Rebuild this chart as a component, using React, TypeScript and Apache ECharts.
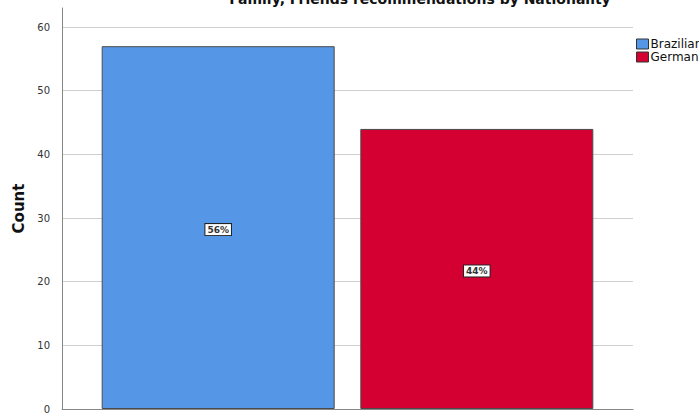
import React, { useEffect, useRef } from "react";
import * as echarts from "echarts";

const titleText = "Family, Friends recommendations by Nationality";
const nationalities = ["Brazilian", "German"];
const counts = [57, 44];
const percentLabels = ["56%", "44%"];
const colors = ["#5596E6", "#D50032"];
const categoryName = ["Nationality"];

export default function App() {
  const ref = useRef<HTMLDivElement>(null);
  useEffect(() => {
    if (!ref.current) return;
    const chart = echarts.init(ref.current, null, { renderer: "svg" });
    const series = nationalities.map((name, i) => ({
      name,
      type: "bar",
      data: [counts[i]],
      barWidth: 233,
      barGap: "11%",
      itemStyle: { color: colors[i], borderColor: "#4a4a4a", borderWidth: 1 },
      label: {
        show: true,
        position: "inside",
        offset: [0, 2],
        formatter: () => percentLabels[i],
        fontFamily: "DejaVu Sans",
        fontSize: 9,
        fontWeight: "bold",
        color: "#333",
        backgroundColor: "#fff",
        borderColor: "#222",
        borderWidth: 1,
        padding: [1, 2, 1, 2],
        lineHeight: 9,
      },
    }));
    chart.setOption({
      animation: false,
      backgroundColor: "#fff",
      title: {
        text: titleText,
        left: 420,
        top: -8,
        textAlign: "center",
        padding: 0,
        textStyle: { fontFamily: "DejaVu Sans", fontSize: 14, fontWeight: "bold", color: "#111" },
      },
      legend: {
        orient: "vertical",
        left: 636,
        top: 38,
        itemWidth: 12,
        itemHeight: 10,
        itemGap: 1,
        padding: 0,
        icon: "rect",
        data: nationalities,
        itemStyle: { borderColor: "#333", borderWidth: 1 },
        textStyle: { fontFamily: "DejaVu Sans", fontSize: 12, color: "#111", padding: [0, 0, 0, -3] },
      },
      grid: { left: 62, right: 66, top: 8, bottom: 4, containLabel: false },
      xAxis: {
        type: "category",
        data: categoryName,
        axisLine: { lineStyle: { color: "#888", width: 1 } },
        axisTick: { show: false },
        axisLabel: { show: false },
      },
      yAxis: {
        type: "value",
        min: 0,
        max: 63,
        interval: 10,
        name: "Count",
        nameLocation: "middle",
        nameGap: 34,
        nameTextStyle: { fontFamily: "DejaVu Sans", fontSize: 15, fontWeight: "bold", color: "#111" },
        axisLine: { show: true, lineStyle: { color: "#888", width: 1 } },
        axisTick: { show: false },
        axisLabel: {
          showMaxLabel: false,
          margin: 12,
          fontFamily: "DejaVu Sans",
          fontSize: 10,
          color: "#333",
        },
        splitLine: { show: true, showMaxLine: false, lineStyle: { color: "#cfcfcf", width: 1 } },
      },
      series,
    });
    return () => chart.dispose();
  }, []);
  return (
    <div
      ref={ref}
      style={{ position: "fixed", left: 0, top: 0, width: 699, height: 414 }}
    />
  );
}
